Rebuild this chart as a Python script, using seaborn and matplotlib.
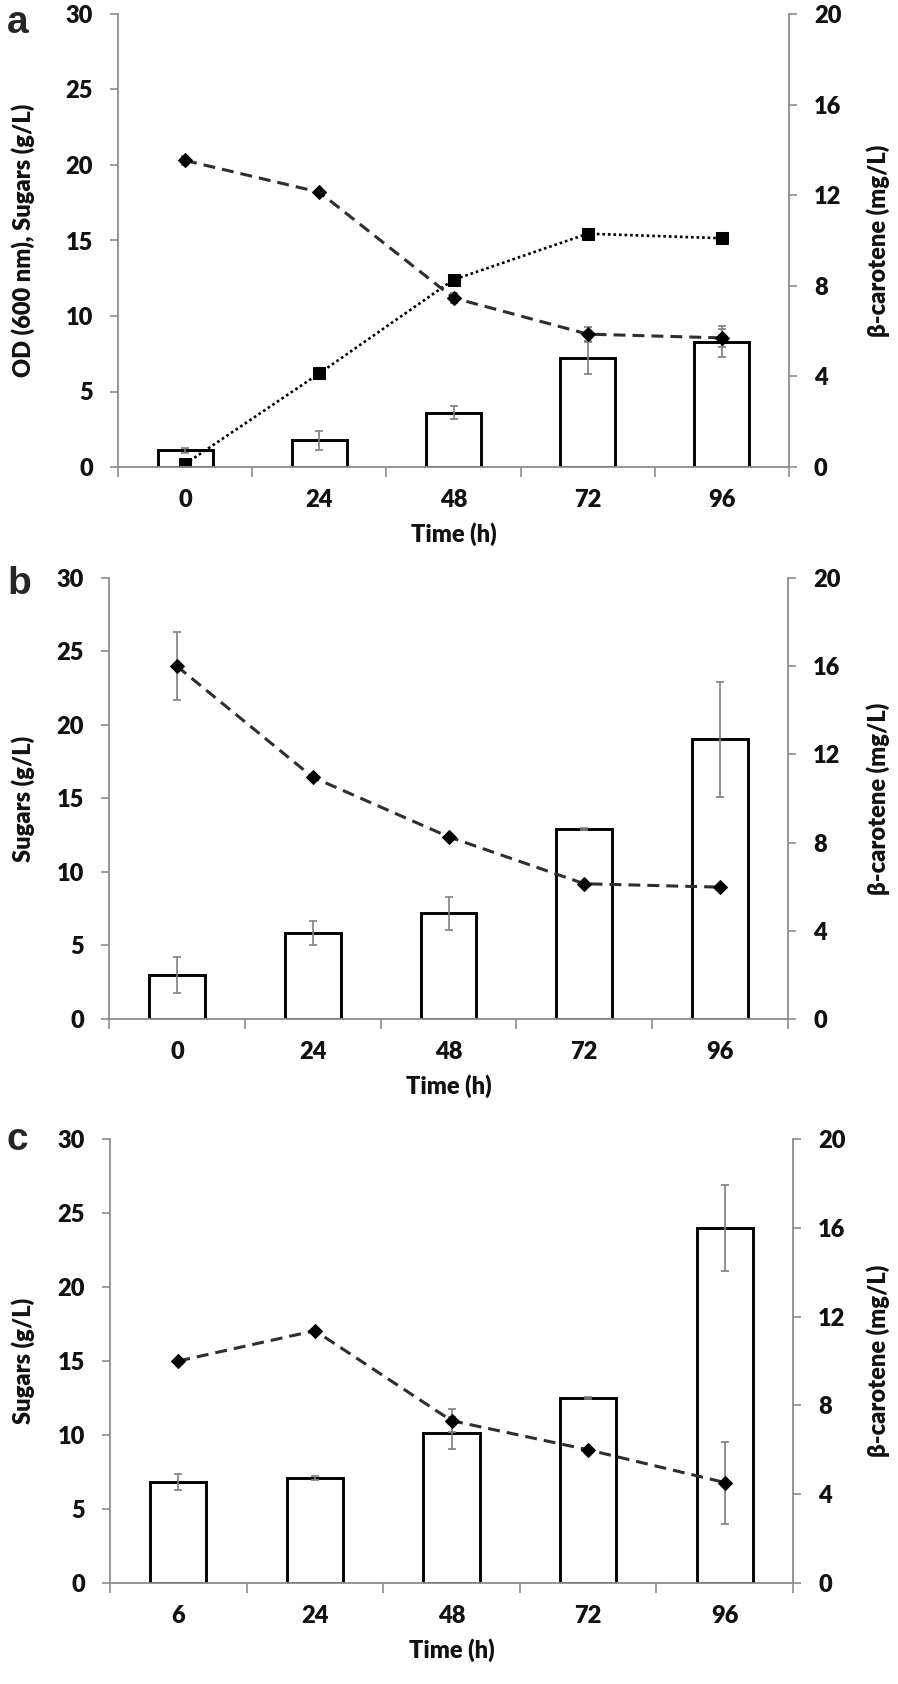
import numpy as np
import pandas as pd
import matplotlib
matplotlib.use("Agg")
import matplotlib.pyplot as plt
import seaborn as sns

# ---------------- data ----------------
time_ab = ["0", "24", "48", "72", "96"]
time_c = ["6", "24", "48", "72", "96"]

# panel a
sugars_a = [20.3, 18.2, 11.2, 8.8, 8.55]
sugars_a_err = [0.3, 0.0, 0.35, 0.5, 0.6]
od_a = [0.2, 6.2, 12.4, 15.45, 15.15]
carotene_a = [0.73, 1.17, 2.40, 4.83, 5.54]
carotene_a_err = [0.13, 0.43, 0.28, 0.72, 0.70]

# panel b
sugars_b = [24.0, 16.45, 12.4, 9.2, 8.97]
sugars_b_err = [2.3, 0.0, 0.0, 0.0, 0.0]
carotene_b = [2.0, 3.9, 4.79, 8.63, 12.68]
carotene_b_err = [0.82, 0.54, 0.75, 0.05, 2.6]

# panel c
sugars_c = [15.0, 17.05, 10.97, 9.0, 6.79]
sugars_c_err = [0.0, 0.1, 0.8, 0.15, 2.77]
carotene_c = [4.57, 4.72, 6.76, 8.34, 15.99]
carotene_c_err = [0.36, 0.1, 0.73, 0.05, 1.93]

left_labels = ["OD (600 nm), Sugars (g/L)", "Sugars (g/L)", "Sugars (g/L)"]
right_label = "β-carotene (mg/L)"
x_label = "Time (h)"
letters = ["a", "b", "c"]

# ---------------- style ----------------
sns.set_style("white")
plt.rcParams["font.family"] = ["Lato", "DejaVu Sans"]
plt.rcParams["font.weight"] = "heavy"
plt.rcParams["axes.labelweight"] = "heavy"

W, H = 898, 1684
fig = plt.figure(figsize=(W / 100, H / 100), dpi=100)

AX_GRAY = "#8c8c8c"
FS = 17
WT = "heavy"


def draw_panel(rect, times, sug, sug_err, car, car_err, od, ylabel, letter, letter_base):
    l, t, r, b = rect
    ax = fig.add_axes([l / W, 1 - b / H, (r - l) / W, (b - t) / H])
    ax2 = ax.twinx()
    idx = np.arange(len(times))

    df = pd.DataFrame({"time": times, "carotene": car})
    sns.barplot(data=df, x="time", y="carotene", order=times, ax=ax2,
                color="white", edgecolor="black", linewidth=2.1, width=0.41,
                errorbar=None, saturation=1)
    ax2.errorbar(idx, car, yerr=car_err, fmt="none", ecolor="#7f7f7f",
                 elinewidth=1.2, capsize=3, capthick=1.2, zorder=5)

    if od is not None:
        sns.lineplot(x=idx, y=od, ax=ax, color="black", linestyle=(0, (1.0, 1.1)),
                     linewidth=1.9, marker="s", markersize=8.5,
                     markerfacecolor="black", markeredgecolor="black",
                     errorbar=None, sort=False)
    ax.errorbar(idx, sug, yerr=sug_err, fmt="none", ecolor="#7f7f7f",
                elinewidth=1.2, capsize=3, capthick=1.2, zorder=1)
    sns.lineplot(x=idx, y=sug, ax=ax, color="#2e2e2e", linestyle=(0, (3.9, 2.3)),
                 linewidth=2.2, marker="D", markersize=7.5,
                 markerfacecolor="black", markeredgecolor="black",
                 errorbar=None, sort=False)

    # layering: lines above bars
    ax.set_zorder(ax2.get_zorder() + 1)
    ax.patch.set_visible(False)

    ax.set_xlim(-0.5, len(times) - 0.5)
    ax.set_ylim(0, 30)
    ax2.set_ylim(0, 20)
    ax.set_yticks(np.arange(0, 31, 5))
    ax2.set_yticks(np.arange(0, 21, 4))
    ax.set_xticks(idx, labels=times)
    ax.set_xticks(np.arange(-0.5, len(times)), minor=True)

    for s in ["top", "right"]:
        ax.spines[s].set_visible(False)
    for s in ["top", "left", "bottom"]:
        ax2.spines[s].set_visible(False)
    for sp in [ax.spines["left"], ax.spines["bottom"], ax2.spines["right"]]:
        sp.set_color(AX_GRAY)
        sp.set_linewidth(1.3)
    ax2.xaxis.set_visible(False)

    ax.tick_params(axis="y", which="major", direction="out", length=6, width=1.2,
                   color=AX_GRAY, pad=12, labelsize=FS, left=True)
    ax2.tick_params(axis="y", which="major", direction="out", length=6, width=1.2,
                    color=AX_GRAY, pad=12, labelsize=FS, right=True)
    ax.tick_params(axis="x", which="major", length=0, pad=16, labelsize=FS, bottom=True)
    ax.tick_params(axis="x", which="minor", direction="out", length=7, width=1.2,
                   color=AX_GRAY, bottom=True)
    for lab in ax.get_xticklabels() + ax.get_yticklabels() + ax2.get_yticklabels():
        lab.set_fontweight(WT)
        lab.set_color("#111111")

    ax.set_xlabel(x_label, fontsize=FS, fontweight=WT, labelpad=8, color="#111111")
    ax.set_ylabel(ylabel, fontsize=FS, fontweight=WT, color="#111111")
    ax2.set_ylabel(right_label, fontsize=FS, fontweight=WT, color="#111111")
    ax.yaxis.set_label_coords((35 - l) / (r - l), 0.5)
    ax2.yaxis.set_label_coords((866 - l) / (r - l), 0.5)

    fig.text(7 / W, 1 - letter_base / H, letter, fontsize=28, fontweight="bold",
             family=["Liberation Sans", "DejaVu Sans"], ha="left", va="baseline")
    return ax, ax2


draw_panel((118, 14, 789, 467), time_ab, sugars_a, sugars_a_err, carotene_a,
           carotene_a_err, od_a, left_labels[0], letters[0], 33)
draw_panel((109, 578, 788, 1019), time_ab, sugars_b, sugars_b_err, carotene_b,
           carotene_b_err, None, left_labels[1], letters[1], 594)
draw_panel((110, 1139, 793, 1583), time_c, sugars_c, sugars_c_err, carotene_c,
           carotene_c_err, None, left_labels[2], letters[2], 1150)

fig.savefig("out.png", dpi=100, facecolor="white")
